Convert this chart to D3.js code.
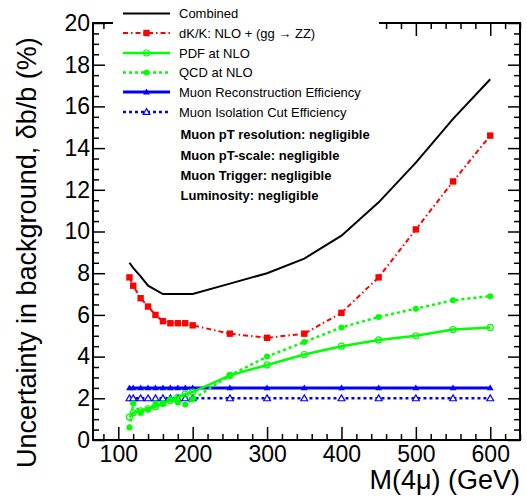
<!DOCTYPE html>
<html>
<head>
<meta charset="utf-8">
<script src="https://cdn.jsdelivr.net/npm/d3@7"></script>
<style>
  html, body { margin: 0; padding: 0; background: #fff; }
  svg { display: block; font-family: "Liberation Sans", Arial, Helvetica, sans-serif; }
</style>
</head>
<body>
<svg id="chart" width="527" height="502"></svg>
<script>
// Four-muon invariant mass points (GeV)
const mass = [115, 120, 130, 140, 150, 160, 170, 180, 190, 200, 250, 300, 350, 400, 450, 500, 550, 600];

// Relative background uncertainty components (%)
const combined = [8.5, 8.25, 7.85, 7.4, 7.2, 7.0, 7.0, 7.0, 7.0, 7.0, 7.5, 8.0, 8.7, 9.8, 11.4, 13.3, 15.4, 17.3];
const dKK      = [7.8, 7.4, 6.8, 6.4, 6.0, 5.7, 5.6, 5.6, 5.6, 5.5, 5.1, 4.9, 5.1, 6.1, 7.8, 10.1, 12.4, 14.6];
const pdfNLO   = [1.1, 1.3, 1.4, 1.5, 1.6, 1.75, 1.9, 2.05, 2.2, 2.3, 3.1, 3.6, 4.1, 4.5, 4.8, 5.0, 5.3, 5.4];
const qcdNLO   = [0.6, 1.75, 1.3, 1.45, 1.75, 1.75, 1.95, 1.8, 1.7, 1.95, 3.1, 4.0, 4.7, 5.4, 5.9, 6.3, 6.7, 6.9];
const muReco   = [2.5, 2.5, 2.5, 2.5, 2.5, 2.5, 2.5, 2.5, 2.5, 2.5, 2.5, 2.5, 2.5, 2.5, 2.5, 2.5, 2.5, 2.5];
const muIso    = [2.0, 2.0, 2.0, 2.0, 2.0, 2.0, 2.0, 2.0, 2.0, 2.0, 2.0, 2.0, 2.0, 2.0, 2.0, 2.0, 2.0, 2.0];

// Axis tick labels
const xTickLabels = [100, 200, 300, 400, 500, 600];
const yTickLabels = [0, 2, 4, 6, 8, 10, 12, 14, 16, 18, 20];

const legendLabels = [
  "Combined",
  "dK/K: NLO + (gg \u2192 ZZ)",
  "PDF at NLO",
  "QCD at NLO",
  "Muon Reconstruction Efficiency",
  "Muon Isolation Cut Efficiency"
];
const notes = [
  "Muon pT resolution: negligible",
  "Muon pT-scale: negligible",
  "Muon Trigger: negligible",
  "Luminosity: negligible"
];

const svg = d3.select("#chart");
const frameL = 93, frameR = 520, frameT = 23, frameB = 440;

const x = d3.scaleLinear().domain([66, 640]).range([frameL, frameR]);
const y = d3.scaleLinear().domain([0, 20]).range([frameB, frameT]);

const xMinor = d3.range(80, 641, 20).filter(v => v % 100 !== 0);
const yMinor = d3.range(0.5, 20, 0.5).filter(v => v % 2 !== 0);

// Inward-pointing ticks on all four sides
function tickAxis(axisFn, scale, values, size, tx, ty, labels) {
  const ax = axisFn(scale).tickValues(values).tickSizeInner(-size).tickSizeOuter(0);
  if (labels) ax.tickPadding(labels.pad).tickFormat(d3.format("d"));
  else ax.tickFormat("");
  const g = svg.append("g").attr("transform", `translate(${tx},${ty})`).call(ax);
  g.select(".domain").remove();
  g.selectAll(".tick line").attr("stroke", "#000").attr("stroke-width", 1.5);
  return g;
}

tickAxis(d3.axisBottom, x, xMinor, 6, 0, frameB);
const xLab = tickAxis(d3.axisBottom, x, xTickLabels, 13, 0, frameB, { pad: 6 });
xLab.selectAll(".tick text").attr("font-size", 23).attr("fill", "#000")
  .attr("font-family", "Liberation Sans, Arial, sans-serif").attr("dy", "0.71em");
tickAxis(d3.axisTop, x, xMinor, 6, 0, frameT);
tickAxis(d3.axisTop, x, xTickLabels, 13, 0, frameT);

tickAxis(d3.axisLeft, y, yMinor, 6, frameL, 0);
const yLab = tickAxis(d3.axisLeft, y, yTickLabels, 12, frameL, 0, { pad: 3 });
yLab.selectAll(".tick text").attr("font-size", 23).attr("fill", "#000")
  .attr("font-family", "Liberation Sans, Arial, sans-serif");
tickAxis(d3.axisRight, y, yMinor, 6, frameR, 0);
tickAxis(d3.axisRight, y, yTickLabels, 12, frameR, 0);

// Frame
svg.append("rect")
  .attr("x", frameL).attr("y", frameT)
  .attr("width", frameR - frameL).attr("height", frameB - frameT)
  .attr("fill", "none").attr("stroke", "#000").attr("stroke-width", 2);

// Legend background (drawn under the curves)
const legend = svg.append("g");
legend.append("rect").attr("x", 113).attr("y", 0).attr("width", 266).attr("height", 200).attr("fill", "#fff");

// Series definitions
const series = [
  { values: combined, color: "#000000", width: 2,   dash: null,        marker: null },
  { values: dKK,      color: "#ff0000", width: 2,   dash: "5,3,1.5,3", marker: "square" },
  { values: pdfNLO,   color: "#00ff00", width: 2.5, dash: null,        marker: "openCircle" },
  { values: qcdNLO,   color: "#00ff00", width: 2.5, dash: "3,3",       marker: "circle" },
  { values: muReco,   color: "#0000ff", width: 3,   dash: null,        marker: "triangle" },
  { values: muIso,    color: "#0000ff", width: 2.5, dash: "3,3",       marker: "openTriangle" }
];

const line = d3.line().x(d => x(d[0])).y(d => y(d[1]));

function drawMarker(g, type, cx, cy, color) {
  if (type === "square") {
    g.append("rect").attr("x", cx - 3.2).attr("y", cy - 3.2).attr("width", 6.4).attr("height", 6.4)
      .attr("fill", color);
  } else if (type === "circle") {
    g.append("circle").attr("cx", cx).attr("cy", cy).attr("r", 3).attr("fill", color);
  } else if (type === "openCircle") {
    g.append("circle").attr("cx", cx).attr("cy", cy).attr("r", 3)
      .attr("fill", "none").attr("stroke", color).attr("stroke-width", 1.2);
  } else if (type === "triangle" || type === "openTriangle") {
    const p = d3.symbol().type(d3.symbolTriangle).size(20)();
    const t = g.append("path").attr("d", p).attr("transform", `translate(${cx},${cy + 0.5})`);
    if (type === "triangle") t.attr("fill", color);
    else t.attr("fill", "#fff").attr("stroke", color).attr("stroke-width", 1.2);
  }
}

const plot = svg.append("g");
// draw bottom-most first so later series sit on top
[5, 4, 3, 2, 1, 0].forEach(i => {
  const s = series[i];
  const pts = mass.map((m, j) => [m, s.values[j]]);
  const g = plot.append("g");
  g.append("path").attr("d", line(pts))
    .attr("fill", "none").attr("stroke", s.color).attr("stroke-width", s.width)
    .attr("stroke-dasharray", s.dash);
  if (s.marker) pts.forEach(p => drawMarker(g, s.marker, x(p[0]), y(p[1]), s.color));
});

// Legend entries
const legItems = svg.append("g");
const legY = [13.5, 33, 53, 72.5, 92, 112];
series.forEach((s, i) => {
  legItems.append("line").attr("x1", 123).attr("x2", 170).attr("y1", legY[i]).attr("y2", legY[i])
    .attr("stroke", s.color).attr("stroke-width", s.width).attr("stroke-dasharray", s.dash);
  if (s.marker) drawMarker(legItems, s.marker, 146.5, legY[i], s.color);
  legItems.append("text").attr("x", 179).attr("y", legY[i]).attr("dy", "0.36em")
    .attr("font-size", 13).attr("fill", "#000").text(legendLabels[i]);
});
const noteY = [134, 155, 175, 195];
notes.forEach((t, i) => {
  legItems.append("text").attr("x", 180.5).attr("y", noteY[i]).attr("dy", "0.36em")
    .attr("font-size", 13).attr("font-weight", "bold").attr("fill", "#000").text(t);
});

// Axis titles
svg.append("text").attr("x", 520).attr("y", 489).attr("text-anchor", "end")
  .attr("font-size", 27).attr("fill", "#000").text("M(4\u03bc) (GeV)");
svg.append("text").attr("transform", "translate(36,468) rotate(-90)")
  .attr("text-anchor", "start").attr("font-size", 27).attr("fill", "#000")
  .text("Uncertainty in background, \u03b4b/b (%)");
</script>
</body>
</html>
